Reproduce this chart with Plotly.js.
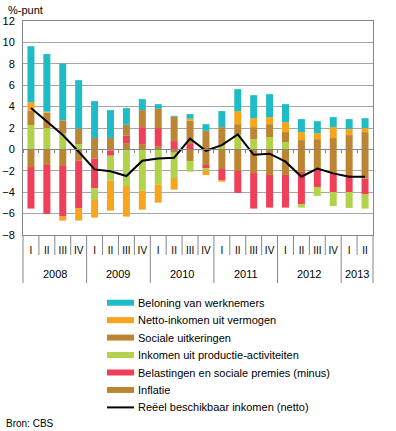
<!DOCTYPE html>
<html><head><meta charset="utf-8">
<script src="https://cdn.plot.ly/plotly-3.0.1.min.js"></script>
<style>html,body{margin:0;padding:0;background:#fff;}</style>
</head><body><div id="chart" style="width:396px;height:431px;"></div>
<script>
const quarters = ["I","II","III","IV","I","II","III","IV","I","II","III","IV","I","II","III","IV","I","II","III","IV","I","II"];
const years = ["2008","2008","2008","2008","2009","2009","2009","2009","2010","2010","2010","2010","2011","2011","2011","2011","2012","2012","2012","2012","2013","2013"];

const inflatie    = [-1.65,-1.46,-1.55,-1.06,-0.84,-0.09, 0.59, 0.50, 0.31,-0.31,-1.09,-1.46,-1.83,-2.02,-2.21,-2.39,-2.39,-2.11,-1.77,-2.24,-2.39,-2.74];
const belastingen = [-3.88,-4.57,-4.73,-4.47,-2.77,-0.50, 0.68, 1.58, 1.68, 0.78, 0.50,-0.28,-1.03,-2.05,-3.32,-3.05,-3.05,-2.99,-1.74,-1.74,-1.59,-1.43];
const inkomen     = [ 2.27, 1.99, 1.49, 0.50,-1.12,-2.33,-3.42,-3.86,-3.30,-2.36,-0.99,-0.25, 0.35, 1.37, 0.96, 1.15, 0.68,-0.34,-0.84,-1.31,-1.49,-1.36];
const sociale     = [ 1.34, 1.46, 1.22, 1.43, 1.06, 1.06, 1.03, 1.59, 1.80, 2.27, 2.17, 1.74, 1.73, 0.99, 1.12, 1.21, 0.94, 0.87, 0.96, 1.06, 1.34, 1.62];
const netto       = [ 0.81, 0.08,-0.37,-1.12,-1.64,-2.80,-2.86,-1.77,-1.68,-1.09, 0.19,-0.40,-0.16, 1.22, 0.84, 0.66, 0.93, 0.75, 0.56, 1.02, 0.56, 0.37];
const beloning    = [ 5.22, 5.38, 5.31, 4.54, 3.45, 2.61, 1.56, 1.03, 0.44, 0.09, 0.44, 0.62, 1.50, 2.05, 2.15, 2.14, 1.68, 1.21, 1.12, 0.94, 0.93, 0.93];
const reeel       = [ 3.86, 2.64, 1.34,-0.22,-1.87,-2.05,-2.49,-1.06,-0.85,-0.78, 1.00,-0.13, 0.40, 1.40,-0.50,-0.40,-1.15,-2.55,-1.80,-2.24,-2.55,-2.55];

const names = {
  beloning: "Beloning van werknemers",
  netto: "Netto-inkomen uit vermogen",
  sociale: "Sociale uitkeringen",
  inkomen: "Inkomen uit productie-activiteiten",
  belastingen: "Belastingen en sociale premies (minus)",
  inflatie: "Inflatie",
  reeel: "Reëel beschikbaar inkomen (netto)"
};
const colors = {
  beloning: "#1fbbc6", netto: "#f8a51e", sociale: "#bb8533",
  inkomen: "#b2d24b", belastingen: "#ee4159", inflatie: "#bb8533", reeel: "#000000"
};
const seriesData = {inflatie, belastingen, inkomen, sociale, netto, beloning};
const stackOrder = ["inflatie","belastingen","inkomen","sociale","netto","beloning"];
const legendOrder = ["beloning","netto","sociale","inkomen","belastingen","inflatie","reeel"];

const xi = quarters.map((q, i) => i);
const n = quarters.length;

const traces = [];
stackOrder.forEach(k => {
  traces.push({type: "bar", x: xi, y: seriesData[k], name: names[k],
    marker: {color: colors[k], line: {width: 0}}, showlegend: false, hoverinfo: "skip"});
});
traces.push({type: "scatter", mode: "lines", x: xi, y: reeel, name: names.reeel, xaxis: "x2",
  line: {color: colors.reeel, width: 2}, showlegend: false});

// plot geometry helpers (paper coordinates)
const W = 396, H = 431;
const plotL = 23, plotR = 373, plotTop = 21, plotBottom = 235;
const plotW = plotR - plotL, plotH = plotBottom - plotTop;
const py = p => (plotBottom - p) / plotH;
const px = p => (p - plotL) / plotW;

const shapes = [];
for (let i = 0; i <= n; i++) {
  const yearBoundary = (i === 0 || i === n || years[i] !== years[i-1]);
  shapes.push({type: "line", xref: "paper", yref: "paper",
    x0: i / n, x1: i / n, y0: 0, y1: py(yearBoundary ? 283 : 255),
    line: {color: "#868686", width: 1}});
}

const annotations = [];
const uniqYears = [...new Set(years)];
uniqYears.forEach(yr => {
  const idx = xi.filter(i => years[i] === yr);
  const mid = (idx[0] + idx[idx.length - 1]) / 2;
  annotations.push({xref: "x", yref: "paper", x: mid, y: py(274), text: yr, showarrow: false,
    xanchor: "center", yanchor: "middle", font: {size: 11, color: "#000"}});
});
annotations.push({xref: "paper", yref: "paper", x: px(6), y: py(10), text: "%-punt",
  showarrow: false, xanchor: "left", yanchor: "middle", font: {size: 11, color: "#000"}});
annotations.push({xref: "paper", yref: "paper", x: px(4), y: py(423), text: "Bron: CBS",
  showarrow: false, xanchor: "left", yanchor: "middle", font: {size: 10, color: "#000"}});

// legend (drawn with shapes + annotations)
legendOrder.forEach((k, i) => {
  const rowY = 302.7 + i * 17.45;
  const isLine = (k === "reeel");
  shapes.push({type: "line", xref: "paper", yref: "paper",
    x0: px(107), x1: px(134), y0: py(rowY), y1: py(rowY),
    line: {color: colors[k], width: isLine ? 2 : 6}});
  annotations.push({xref: "paper", yref: "paper", x: px(136), y: py(rowY), text: names[k],
    showarrow: false, xanchor: "left", yanchor: "middle", font: {size: 11, color: "#000"}});
});

const layout = {
  width: W, height: H,
  margin: {l: plotL, r: W - plotR, t: plotTop, b: H - plotBottom, pad: 0},
  paper_bgcolor: "#fff", plot_bgcolor: "#fff",
  font: {family: "Liberation Sans, Arial, sans-serif", size: 11, color: "#000"},
  barmode: "relative", bargap: 0.56,
  showlegend: false,
  xaxis: {range: [-0.5, n - 0.5], tickmode: "array", tickvals: xi, ticktext: quarters,
    ticks: "", showgrid: false, zeroline: false, showline: true, mirror: true,
    linecolor: "#868686", linewidth: 1, ticklabelstandoff: 6, tickfont: {size: 10, color: "#000000"},
    fixedrange: true, automargin: false},
  xaxis2: {overlaying: "x", anchor: "free", position: 0.4, range: [-0.5, n - 0.5],
    tickmode: "array", tickvals: xi.map(i => i - 0.5).concat([n - 0.5]), ticks: "outside", ticklen: 3,
    tickcolor: "#868686", showticklabels: false, showgrid: false, zeroline: false,
    showline: true, linecolor: "#868686", linewidth: 1, side: "bottom", automargin: false},
  yaxis: {range: [-8, 12], dtick: 2, tick0: 0, showgrid: true, gridcolor: "#a6a6a6", gridwidth: 1,
    zeroline: false, showline: true, mirror: true, linecolor: "#868686", linewidth: 1,
    ticks: "", ticklabelstandoff: 5, tickfont: {size: 11, color: "#000000"}, automargin: false},
  shapes: shapes,
  annotations: annotations
};

Plotly.newPlot("chart", traces, layout, {displayModeBar: false, staticPlot: true});
</script>
</body></html>
